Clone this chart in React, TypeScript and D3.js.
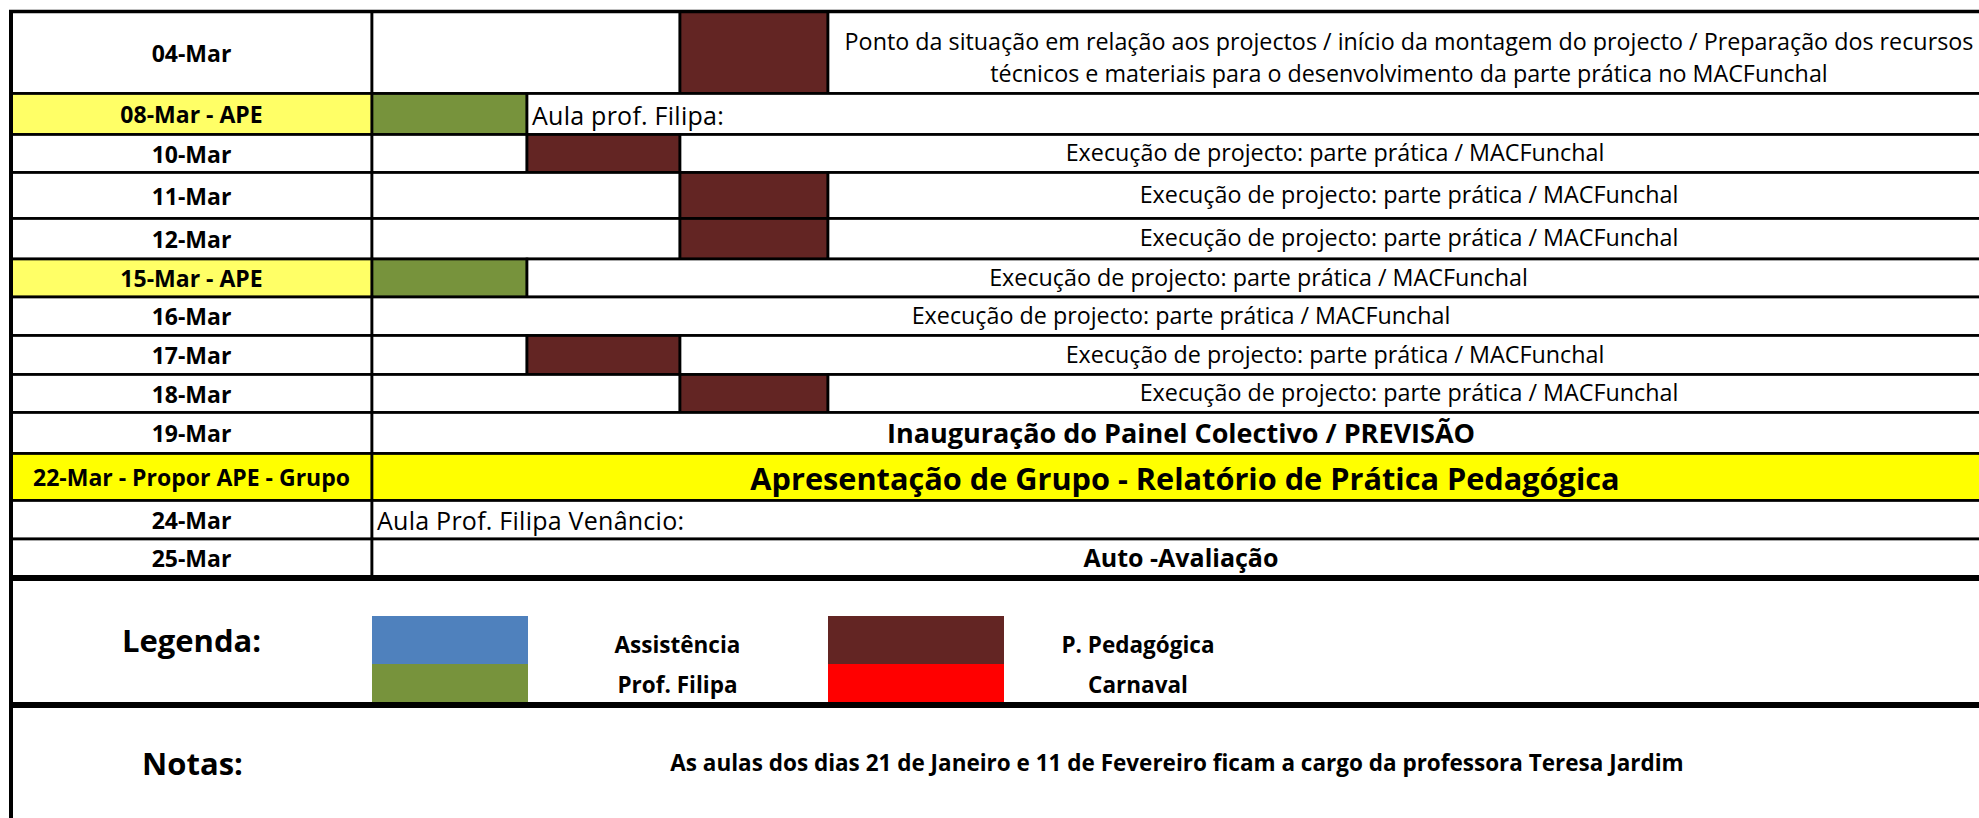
import React from "react";
import * as d3 from "d3";

// schedule rows
const dates = [
  "04-Mar",
  "08-Mar - APE",
  "10-Mar",
  "11-Mar",
  "12-Mar",
  "15-Mar - APE",
  "16-Mar",
  "17-Mar",
  "18-Mar",
  "19-Mar",
  "22-Mar - Propor APE - Grupo",
  "24-Mar",
  "25-Mar",
];
const dateHighlight = ["", "ape", "", "", "", "ape", "", "", "", "", "group", "", ""];
const blockColumn = ["D", "B", "C", "D", "D", "B", "", "C", "D", "", "", "", ""];
const blockActivity = ["ped", "filipa", "ped", "ped", "ped", "filipa", "", "ped", "ped", "", "", "", ""];
const EXEC = "Execução de projecto: parte prática / MACFunchal";
const descriptions = [
  [
    "Ponto da situação em relação aos projectos / início da montagem do projecto / Preparação dos recursos",
    "técnicos e materiais para o desenvolvimento da parte prática no MACFunchal",
  ],
  ["Aula prof. Filipa:"],
  [EXEC],
  [EXEC],
  [EXEC],
  [EXEC],
  [EXEC],
  [EXEC],
  [EXEC],
  ["Inauguração do Painel Colectivo / PREVISÃO"],
  ["Apresentação de Grupo - Relatório de Prática Pedagógica"],
  ["Aula Prof. Filipa Venâncio:"],
  ["Auto -Avaliação"],
];
const descStyle = ["wrap", "aula", "body", "body", "body", "body", "body", "body", "body", "bold", "headline", "aula", "bold"];

// legend
const legendTitle = "Legenda:";
const legendKeys = ["assist", "filipa", "ped", "carnaval"];
const legendNames = ["Assistência", "Prof. Filipa", "P. Pedagógica", "Carnaval"];
const notesTitle = "Notas:";
const notesText = "As aulas dos dias 21 de Janeiro e 11 de Fevereiro ficam a cargo da professora Teresa Jardim";

const W = 1979;
const H = 818;
const FONT = "'Open Sans', 'Noto Sans', sans-serif";
const LINE = 2.7;
const BODY = 23.3;

const rowHeights = [82, 41, 38, 46, 40.5, 38, 38.5, 39, 38, 41, 47, 38.5, 38];
const tableTop = 11.5;
const rowEdges = [tableTop, ...Array.from(d3.cumsum(rowHeights), (v) => v + tableTop)];

const colNames = ["A", "B", "C", "D", "E", "end"];
const x = d3.scaleOrdinal<string, number>().domain(colNames).range([11, 372, 527, 680, 828, 1990]);
const nextCol = (c: string) => colNames[colNames.indexOf(c) + 1];

const activityColor = d3
  .scaleOrdinal<string, string>()
  .domain(legendKeys)
  .range(["#4F81BD", "#77933C", "#632523", "#FF0000"]);
const highlightColor: Record<string, string> = { ape: "#FFFF66", group: "#FFFF00" };

const tableBottom = rowEdges[rowEdges.length - 1] + 1;
const legendBottom = 705;

export default function App() {
  const cell = (key: string, x0: number, y0: number, x1: number, y1: number, fill: string) => (
    <rect key={key} x={x0} y={y0} width={x1 - x0} height={y1 - y0} fill={fill} stroke="#000" strokeWidth={LINE} />
  );

  const labelCenter = (x("A") + x("B")) / 2;

  return (
    <svg
      width={W}
      height={H}
      style={{ position: "absolute", left: 0, top: 0, display: "block", background: "#fff" }}
      fontFamily={FONT}
    >
      <rect width={W} height={H} fill="#fff" />
      {dates.map((d, i) => {
        const y0 = rowEdges[i];
        const y1 = rowEdges[i + 1];
        const cy = (y0 + y1) / 2;
        const bc = blockColumn[i];
        const textStart = bc ? x(nextCol(bc)) : x("B");
        const hl = dateHighlight[i];
        const style = descStyle[i];
        const tx = (textStart + x("end")) / 2;
        const lines = descriptions[i];
        return (
          <g key={d}>
            {cell("a", x("A"), y0, x("B"), y1, hl ? highlightColor[hl] : "#fff")}
            {bc && bc !== "B" && cell("w", x("B"), y0, x(bc), y1, "#fff")}
            {bc && cell("b", x(bc), y0, x(nextCol(bc)), y1, activityColor(blockActivity[i]))}
            {cell("t", textStart, y0, x("end"), y1, hl === "group" ? highlightColor.group : "#fff")}
            <text x={labelCenter} y={cy + 9.2} textAnchor="middle" fontWeight="bold" fontSize={23}>
              {d}
            </text>
            {style === "wrap" &&
              lines.map((l, k) => (
                <text key={k} x={tx} y={y0 + 38.5 + k * 31.5} textAnchor="middle" fontSize={BODY}>
                  {l}
                </text>
              ))}
            {style === "body" && (
              <text x={tx} y={cy + 7.7} textAnchor="middle" fontSize={BODY}>
                {lines[0]}
              </text>
            )}
            {style === "aula" && (
              <text x={textStart + 5} y={cy + 10.7} fontSize={25} letterSpacing={0.25}>
                {lines[0]}
              </text>
            )}
            {style === "bold" && (
              <text
                x={tx}
                y={cy + (i === dates.length - 1 ? 9 : 10)}
                textAnchor="middle"
                fontWeight="bold"
                fontSize={i === dates.length - 1 ? 25 : 27}
              >
                {lines[0]}
              </text>
            )}
            {style === "headline" && (
              <text x={tx + 4} y={cy + 12.5} textAnchor="middle" fontWeight="bold" fontSize={30.7}>
                {lines[0]}
              </text>
            )}
          </g>
        );
      })}

      {/* legend */}
      {legendKeys.map((k, i) => {
        const left = i < 2 ? x("B") : x("E");
        const w = i < 2 ? x("C") - x("B") + 1 : 176;
        const y0 = i % 2 === 0 ? 616 : 664;
        const y1 = i % 2 === 0 ? 664 : legendBottom;
        const tcx = i < 2 ? (x("C") + x("E")) / 2 : 1138;
        return (
          <g key={k}>
            <rect x={left} y={y0} width={w} height={y1 - y0} fill={activityColor(k)} />
            <text
              x={tcx}
              y={i % 2 === 0 ? 652.5 : 692.5}
              textAnchor="middle"
              fontWeight="bold"
              fontSize={22.5}
            >
              {legendNames[i]}
            </text>
          </g>
        );
      })}
      <text x={labelCenter} y={651.5} textAnchor="middle" fontWeight="bold" fontSize={31}>
        {legendTitle}
      </text>
      <text x={labelCenter + 1} y={774.5} textAnchor="middle" fontWeight="bold" fontSize={31}>
        {notesTitle}
      </text>
      <text x={(x("B") + x("end")) / 2 - 4} y={771} textAnchor="middle" fontWeight="bold" fontSize={22.5}>
        {notesText}
      </text>

      {/* heavy borders */}
      <line x1={9} x2={W} y1={tableTop} y2={tableTop} stroke="#000" strokeWidth={3.5} />
      <line x1={11} x2={11} y1={10} y2={H} stroke="#000" strokeWidth={4} />
      <line x1={9} x2={W} y1={tableBottom} y2={tableBottom} stroke="#000" strokeWidth={6} />
      <line x1={9} x2={W} y1={legendBottom} y2={legendBottom} stroke="#000" strokeWidth={6} />
    </svg>
  );
}
